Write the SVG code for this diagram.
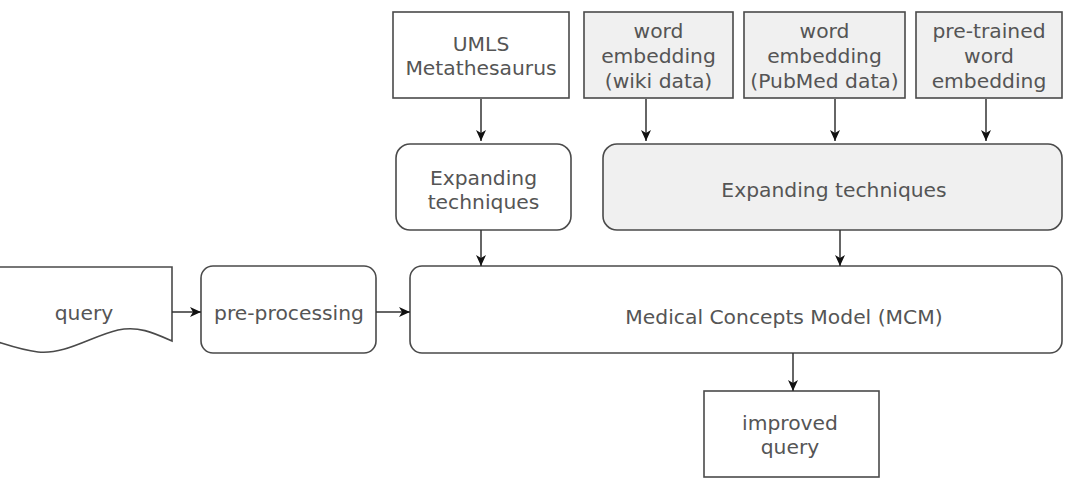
<svg xmlns="http://www.w3.org/2000/svg" width="1065" height="493" viewBox="0 0 1065 493">
<defs>
<marker id="ah" markerWidth="12" markerHeight="12" refX="11" refY="5.5" orient="auto" markerUnits="userSpaceOnUse">
<path d="M0,0.5 L11,5.5 L0,10.5 L3,5.5 Z" fill="#111"/>
</marker>
<style>
.b{stroke:#4a4a4a;stroke-width:1.6;fill:#fff}
.g{fill:#f0f0f0}
.t{font-family:"DejaVu Sans",Verdana,sans-serif;font-size:20.3px;fill:#555;text-anchor:middle}
.c{stroke:#333;stroke-width:1.5;fill:none;marker-end:url(#ah)}
</style>
</defs>
<rect width="1065" height="493" fill="#fff"/>
<g id="umls"><rect class="b" x="393" y="12" width="176" height="86"/><text class="t" x="481" y="51">UMLS</text><text class="t" x="481" y="75">Metathesaurus</text></g>
<g id="wiki"><rect class="b g" x="584" y="12" width="149" height="86"/><text class="t" x="658.5" y="38">word</text><text class="t" x="658.5" y="63">embedding</text><text class="t" x="658.5" y="88">(wiki data)</text></g>
<g id="pubmed"><rect class="b g" x="744" y="12" width="161" height="86"/><text class="t" x="824.5" y="38">word</text><text class="t" x="824.5" y="63">embedding</text><text class="t" x="824.5" y="88">(PubMed data)</text></g>
<g id="pretrained"><rect class="b g" x="916" y="12" width="146" height="86"/><text class="t" x="989" y="38">pre-trained</text><text class="t" x="989" y="63">word</text><text class="t" x="989" y="88">embedding</text></g>
<g id="expand1"><rect class="b" x="396" y="144" width="175" height="86" rx="14"/><text class="t" x="483.5" y="185">Expanding</text><text class="t" x="483.5" y="209">techniques</text></g>
<g id="expand2"><rect class="b g" x="603" y="144" width="459" height="86" rx="14"/><text class="t" x="834" y="197">Expanding techniques</text></g>
<g id="query"><path class="b" d="M-5,267 H172 V341 C152,332 138,326 118,330 C92,336 65,355 38,352 C22,350 8,345 -5,341 Z"/><text class="t" x="84" y="320">query</text></g>
<g id="preproc"><rect class="b" x="201" y="266" width="175" height="87" rx="12"/><text class="t" x="289" y="320">pre-processing</text></g>
<g id="mcm"><rect class="b" x="410" y="266" width="652" height="87" rx="12"/><text class="t" x="784" y="324">Medical Concepts Model (MCM)</text></g>
<g id="improved"><rect class="b" x="704" y="391" width="175" height="86"/><text class="t" x="790" y="430">improved</text><text class="t" x="790" y="454">query</text></g>
<g id="connectors">
<line class="c" x1="481" y1="99" x2="481" y2="141"/>
<line class="c" x1="646" y1="99" x2="646" y2="141"/>
<line class="c" x1="835" y1="99" x2="835" y2="141"/>
<line class="c" x1="986" y1="99" x2="986" y2="141"/>
<line class="c" x1="481" y1="230" x2="481" y2="266"/>
<line class="c" x1="840" y1="230" x2="840" y2="266"/>
<line class="c" x1="172" y1="312" x2="201" y2="312"/>
<line class="c" x1="376" y1="312" x2="410" y2="312"/>
<line class="c" x1="793" y1="353" x2="793" y2="391"/>
</g>
</svg>
